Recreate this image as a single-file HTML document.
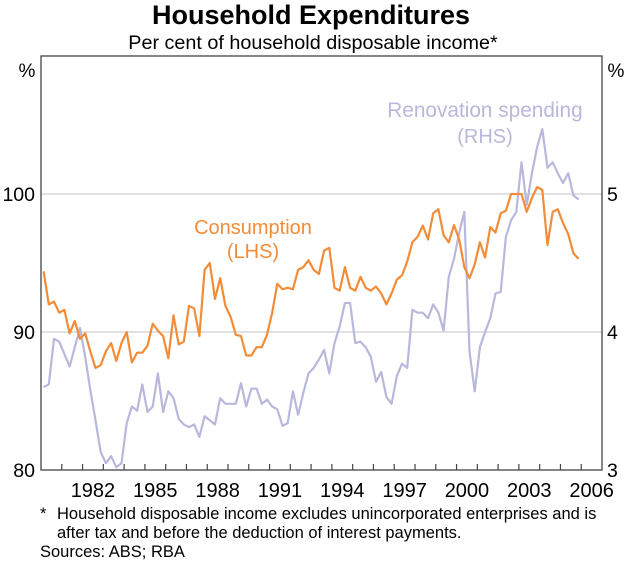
<!DOCTYPE html>
<html><head><meta charset="utf-8"><style>
body{margin:0;background:#fff;font-family:"Liberation Sans",sans-serif;}
svg text{font-family:"Liberation Sans",sans-serif;}
</style></head><body>
<svg id="chart" width="626" height="562" viewBox="0 0 626 562" xmlns="http://www.w3.org/2000/svg">
<text x="311" y="24" text-anchor="middle" font-size="27" font-weight="bold" fill="#000">Household Expenditures</text>
<text x="313" y="49" text-anchor="middle" font-size="19.8" fill="#000">Per cent of household disposable income*</text>
<g id="grid"></g>
<g id="series"></g>
<rect x="41" y="56" width="561" height="414" fill="none" stroke="#444" stroke-width="1.3"/>
<g id="axes"></g>
<text x="27" y="77" text-anchor="middle" font-size="19">%</text>
<text x="616" y="77" text-anchor="middle" font-size="19">%</text>
<text x="253" y="234" text-anchor="middle" font-size="20" fill="#f28c38">Consumption</text>
<text x="253" y="258" text-anchor="middle" font-size="20" fill="#f28c38">(LHS)</text>
<text x="485" y="117" text-anchor="middle" font-size="20.8" fill="#b8b8dc">Renovation spending</text>
<text x="485" y="143" text-anchor="middle" font-size="20" fill="#b8b8dc">(RHS)</text>
<text x="40" y="519" font-size="16.5">*</text>
<text x="57" y="519" font-size="16.5">Household disposable income excludes unincorporated enterprises and is</text>
<text x="57" y="538" font-size="16.5">after tax and before the deduction of interest payments.</text>
<text x="40" y="557" font-size="16.5">Sources: ABS; RBA</text>
</svg>
<script>
const leftTicks = [80, 90, 100];
const rightTicks = [3, 4, 5];
const yearLabels = [1982, 1985, 1988, 1991, 1994, 1997, 2000, 2003, 2006];
const startYear = 1980;
const consumption = [94.4,92.0,92.2,91.4,91.6,89.9,90.8,89.5,89.9,88.6,87.4,87.6,88.6,89.2,87.9,89.2,90.0,87.8,88.5,88.5,89.0,90.6,90.1,89.7,88.1,91.2,89.1,89.3,91.9,91.7,89.7,94.5,95.0,92.4,93.9,91.9,91.1,89.8,89.7,88.3,88.3,88.9,88.9,89.8,91.4,93.5,93.1,93.2,93.1,94.5,94.7,95.2,94.5,94.2,
95.9,96.1,93.2,93.0,94.7,93.2,93.0,94.0,93.2,93.0,93.3,92.8,92.0,92.8,93.8,94.1,95.1,96.5,96.9,97.7,96.7,98.6,98.9,97.0,96.5,97.75,96.7,94.7,93.9,94.9,96.5,95.4,97.6,97.2,98.6,98.8,100,100,100,98.7,99.7,100.5,100.3,96.3,98.7,98.9,97.9,97.1,95.7,95.3];
const renovation = [3.60,3.62,3.95,3.93,3.84,3.75,3.89,4.03,3.82,3.58,3.36,3.13,3.05,3.10,3.02,3.05,3.34,3.46,3.43,3.62,3.42,3.46,3.70,3.42,3.57,3.52,3.37,3.33,3.31,3.33,3.24,3.39,3.36,3.33,3.52,3.48,3.48,3.48,3.63,3.46,3.59,3.59,3.48,3.51,3.46,3.44,3.32,3.34,3.57,3.40,3.56,3.70,3.74,3.80,
3.87,3.70,3.92,4.04,4.21,4.21,3.92,3.93,3.89,3.82,3.64,3.71,3.53,3.48,3.68,3.77,3.74,4.16,4.14,4.14,4.10,4.20,4.14,4.01,4.40,4.53,4.72,4.87,3.86,3.57,3.89,4.00,4.10,4.28,4.29,4.69,4.81,4.87,5.23,4.92,5.15,5.34,5.47,5.19,5.23,5.15,5.08,5.15,4.99,4.96];

const NS='http://www.w3.org/2000/svg';
const L=41,R=602,T=56,B=470;
const xYear=y=>L+(y-1980)*(R-L)/27;
const yL=v=>B-(v-80)*(B-T)/30;
const yR=v=>B-(v-3)*(B-T)/3;
function mk(tag,attrs,parent){const e=document.createElementNS(NS,tag);for(const k in attrs)e.setAttribute(k,attrs[k]);parent.appendChild(e);return e;}
const grid=document.getElementById('grid'),axes=document.getElementById('axes'),ser=document.getElementById('series');
leftTicks.forEach((v,i)=>{
  if(v>80){const g=mk('line',{x1:L,x2:R,y1:yL(v),y2:yL(v),stroke:'#cfcfcf','stroke-width':1.2},grid);
  
  }
  const t=mk('text',{x:35,y:yL(v)+7,'text-anchor':'end','font-size':19.5},axes);t.textContent=v;
  
  
});
rightTicks.forEach(v=>{
  const t=mk('text',{x:607,y:yR(v)+7,'font-size':19.5},axes);t.textContent=v;
  
  
});
for(let y=1981;y<=2006;y++){
  const l=mk('line',{x1:xYear(y),x2:xYear(y),y1:B,y2:B-6,stroke:'#444','stroke-width':1.2},axes);
  
  
}
yearLabels.forEach(y=>{
  const t=mk('text',{x:xYear(y+0.5),y:497,'text-anchor':'middle','font-size':20},axes);t.textContent=y;
  
  
});
function line(data,fy,color,name){
  const pts=data.map((v,i)=>xYear(startYear+(i+0.5)/4).toFixed(1)+','+fy(v).toFixed(1)).join(' ');
  const p=mk('polyline',{points:pts,fill:'none',stroke:color,'stroke-width':2.2,'stroke-linejoin':'round'},ser);
  
  
}
line(renovation,yR,'#b8b8dc','renovation-line');
line(consumption,yL,'#f28c38','consumption-line');
</script>
</body></html>
